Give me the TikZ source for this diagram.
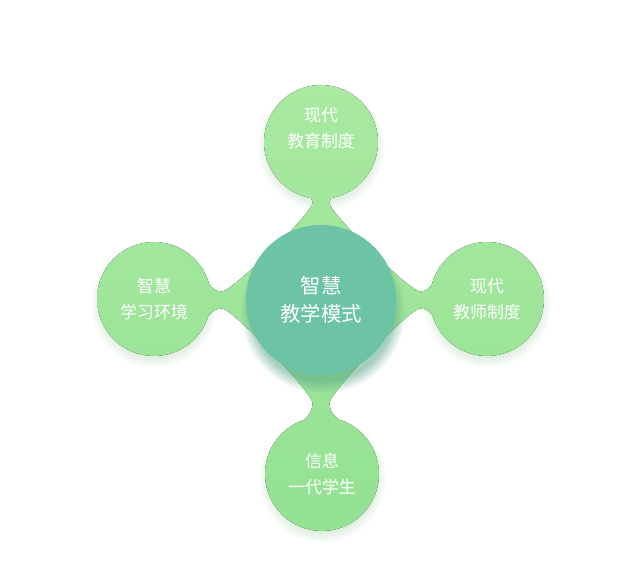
\documentclass[tikz,border=0pt]{standalone}
\usepackage{fontspec}
\newfontfamily\cjk{Noto Sans CJK SC}
\usetikzlibrary{calc,shadows,fadings}
\pgfdeclarelayer{background}
\pgfsetlayers{background,main}
\definecolor{leaftop}{RGB}{173,234,164}
\definecolor{leafbottom}{RGB}{146,225,146}
\definecolor{coreteal}{RGB}{108,196,164}

\begin{document}
\begin{tikzpicture}[x=0.025cm, y=0.025cm,
    leaf/.style ={circle, minimum size=2.85cm, inner sep=0pt, text=white,
      align=center, font=\cjk\fontsize{12}{18.5}\selectfont},
    core/.style ={circle, fill=coreteal, minimum size=3.75cm, inner sep=0pt,
      text=white, align=center, font=\cjk\fontsize{14.5}{20}\selectfont,
      circular drop shadow={shadow xshift=1pt, shadow yshift=-7pt,
        shadow scale=1.1, opacity=.55, fill=coreteal!85!black}},
    glow/.style ={fill=leafbottom!80!black, opacity=.25,
      path fading=circle with fuzzy edge 20 percent}]
   \useasboundingbox (0,0) rectangle (640,569);

   \node[core] (C)  at (321,269)  {智慧\\教学模式};
   \node[leaf] (T)  at (321,427)  {};
   \node[leaf] (L)  at (154,270)  {智慧\\学习环境};
   \node[leaf] (R)  at (487,270)  {现代\\教师制度};
   \node[leaf] (B)  at (322,95)   {信息\\一代学生};
   \node[leaf,minimum size=0pt] (Tt) at (321,441) {现代\\教育制度};

   \begin{pgfonlayer}{background}
   \foreach \o in {T,L,R,B}
     \fill[glow] ($(\o)+(0,-5)$) circle (64);
   \begin{scope}
   \clip (T) circle (57) (L) circle (57) (R) circle (57) (B) circle (57)
     ($(C)+(270:103)+(0:8.5)$)
     \foreach \o/\a/\n [evaluate=\a as \ain using \a+180,
                        evaluate=\a as \aout using \a+90,
                        evaluate=\a as \fin using \a+122,
                        evaluate=\a as \fout using \a-122] in
                        {R/0/99, T/90/97, L/180/99, B/270/103}{
       to[out=\aout, in=\ain, looseness=.2] ($(C)+(\a:\n)+(\a-90:8.5)$)
       to[out=\a, in=\fin] ($(\o)+(\a+212:55)$)
       -- ($(\o)+(\a+148:55)$)
       to[out=\fout, in=\a] ($(C)+(\a:\n)+(\a+90:8.5)$)
     } -- cycle;
   \fill[top color=leaftop, bottom color=leafbottom] (0,0) rectangle (640,569);
   \end{scope}
   \end{pgfonlayer}
 \end{tikzpicture}
\end{document}
